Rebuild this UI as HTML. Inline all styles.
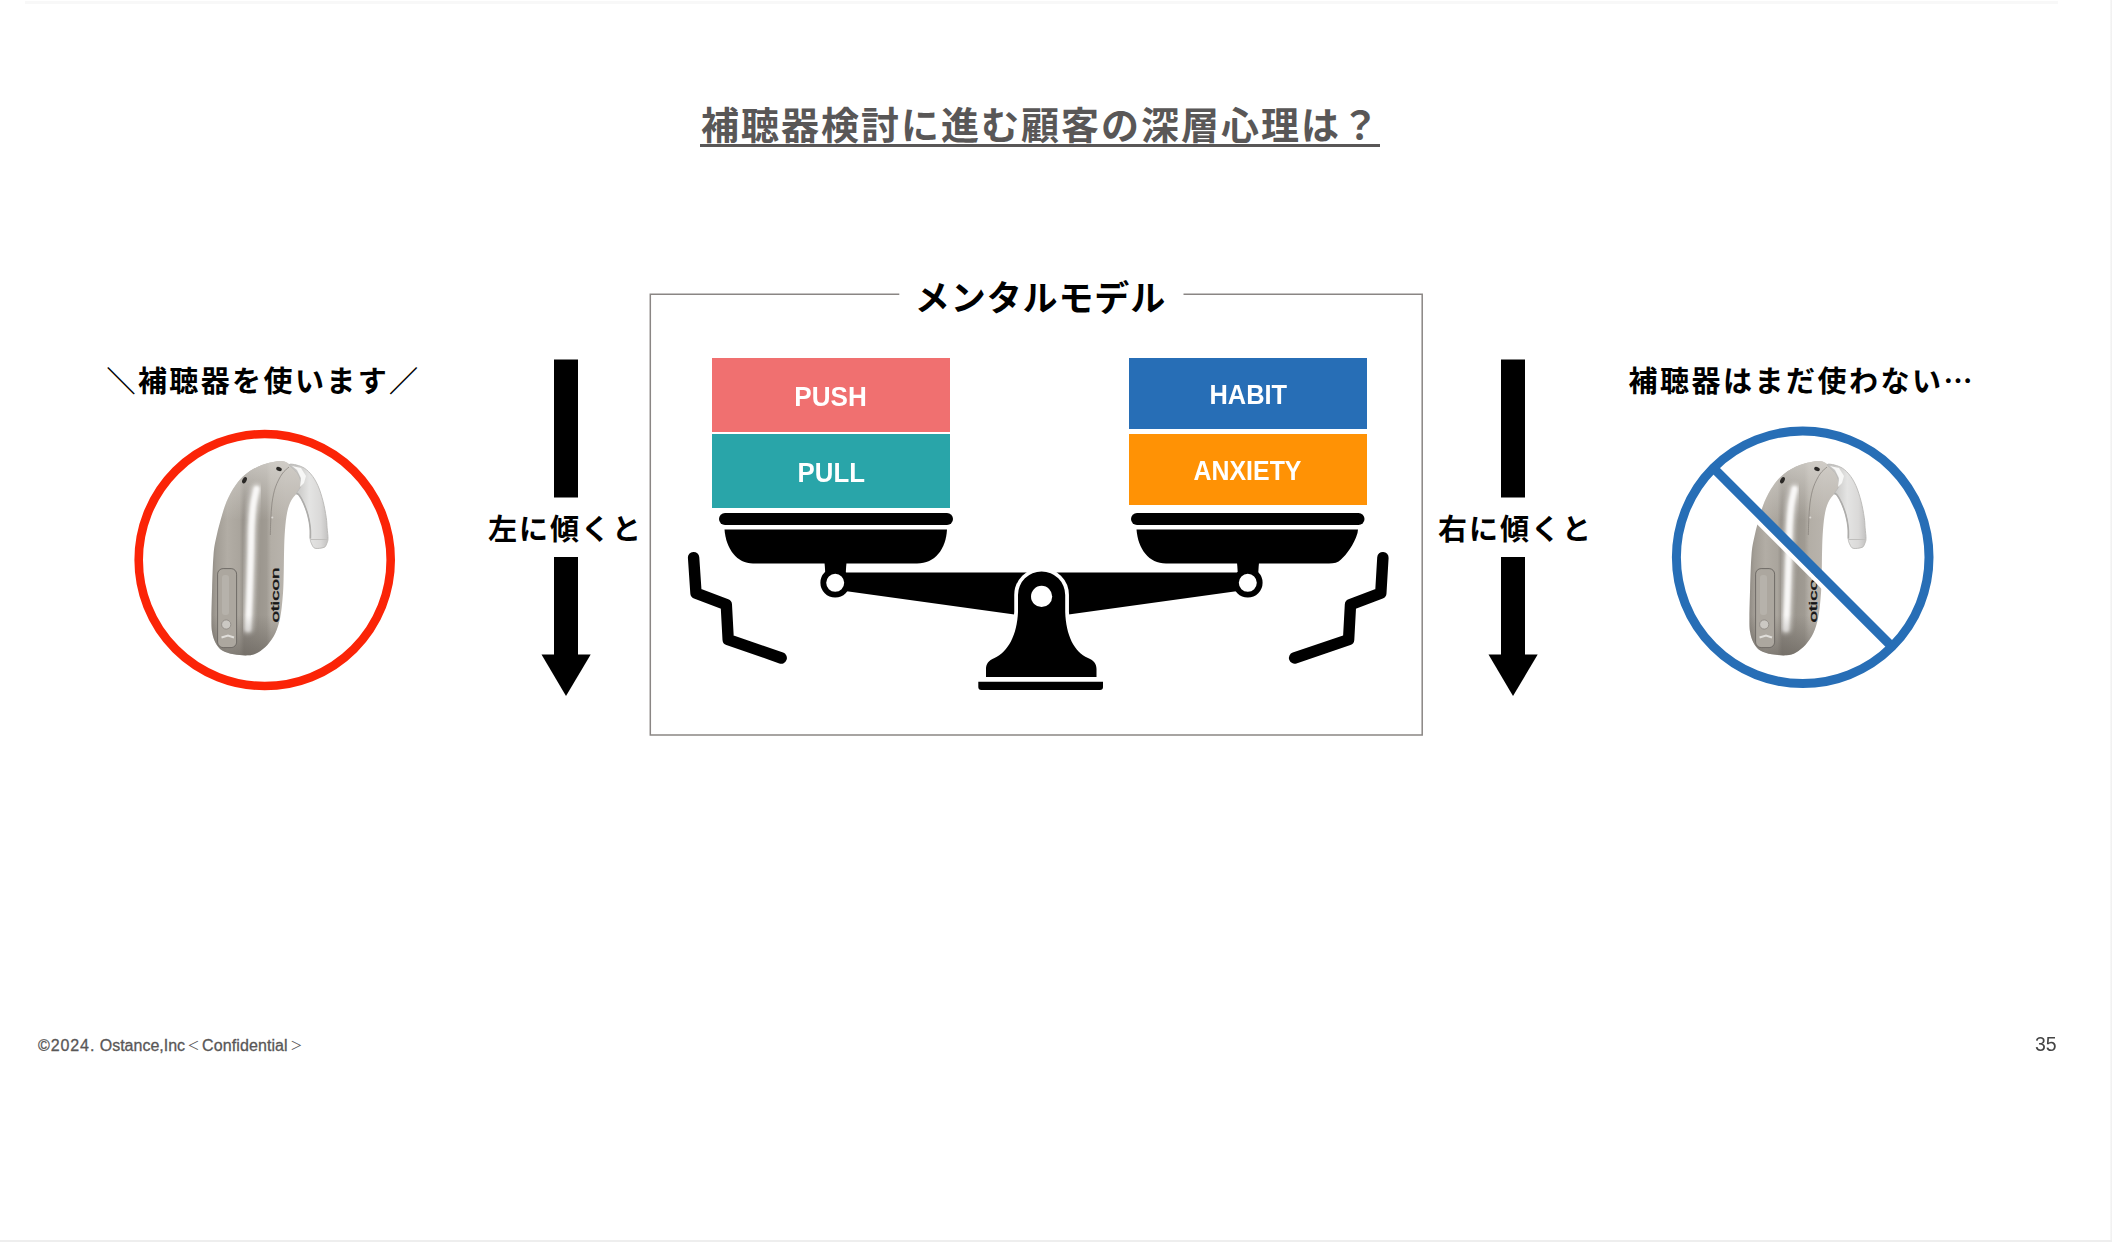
<!DOCTYPE html>
<html lang="ja">
<head>
<meta charset="utf-8">
<title>補聴器検討に進む顧客の深層心理は？</title>
<style>
html,body{margin:0;padding:0;background:#fff;}
body{width:2112px;height:1242px;position:relative;overflow:hidden;
  font-family:"Liberation Sans","Noto Sans CJK JP",sans-serif;}
.abs{position:absolute;white-space:nowrap;line-height:1;}
.jp{font-family:"Liberation Sans","Noto Sans CJK JP",sans-serif;font-weight:700;color:#000;}
#topbar{left:25px;top:1px;width:2033px;height:3px;background:#f8f8f8;}
#rightedge{left:2110px;top:0;width:2px;height:1242px;background:linear-gradient(to right,#f9f9f9,#efefef);}
#bottomedge{left:0;top:1240px;width:2112px;height:2px;background:#eeeeee;}
#title{left:701px;top:107px;font-size:38px;letter-spacing:2px;color:#595757;}
#uline{left:700px;top:144.2px;width:679.5px;height:2.7px;background:#595757;}
#boxlabel{left:899px;top:273.5px;width:285px;height:50px;text-align:center;font-size:35px;line-height:50px;letter-spacing:0.9px;text-indent:-2px;}
.blk{position:absolute;color:#fff;font-weight:700;font-size:27px;text-align:center;}
#push{left:712px;top:358px;width:238px;height:74px;background:#f07070;line-height:78px;}
#pull{left:712px;top:434px;width:238px;height:74px;background:#29a5a9;line-height:78px;}
#habit{left:1129px;top:358px;width:238px;height:71px;background:#276eb6;line-height:75.5px;}
#anx{left:1129px;top:434px;width:238px;height:71px;background:#ff9205;line-height:74px;}
.blk span{display:inline-block;transform-origin:50% 50%;}
.cap{font-size:29px;letter-spacing:2px;}
#capL{left:106.5px;top:368px;letter-spacing:2.4px;}
#capR{left:1628.5px;top:365px;letter-spacing:2.5px;}
#capR span{font-family:"Noto Sans CJK JP",sans-serif;}
#tiltL{left:488px;top:515.5px;}
#tiltR{left:1438px;top:515.5px;}
#foot{left:38px;top:1038px;font-size:16px;color:#595757;-webkit-text-stroke:0.3px #595757;}
#foot .y{letter-spacing:0.9px;}
#foot .fw{display:inline-block;font-size:12px;width:17px;text-align:center;position:relative;top:-1px;-webkit-text-stroke:0;}
#foot .c{letter-spacing:0px;}
#foot #f4{letter-spacing:0.1px;}
#pageno{left:2034.6px;top:1034px;font-size:20.5px;color:#444;transform:scaleX(0.95);transform-origin:0 0;}
svg{position:absolute;left:0;top:0;}
</style>
</head>
<body>
<div class="abs" id="topbar"></div>
<div class="abs" id="rightedge"></div>
<div class="abs" id="bottomedge"></div>

<div class="abs jp" id="title">補聴器検討に進む顧客の深層心理は？</div>
<div class="abs" id="uline"></div>

<div class="abs jp" id="boxlabel">メンタルモデル</div>

<div class="blk" id="push"><span style="transform:scaleX(0.966)">PUSH</span></div>
<div class="blk" id="pull"><span style="transform:scaleX(0.955)">PULL</span></div>
<div class="blk" id="habit"><span style="transform:scaleX(0.94)">HABIT</span></div>
<div class="blk" id="anx"><span style="transform:scaleX(0.922)">ANXIETY</span></div>

<svg id="gfx" width="2112" height="1242" viewBox="0 0 2112 1242">
  <path d="M899.3,294.2 L650.3,294.2 L650.3,735 L1422.2,735 L1422.2,294.2 L1183.5,294.2" fill="none" stroke="#8a8684" stroke-width="1.5"/>
  <!-- arrows -->
  <g fill="#000">
    <rect x="554" y="359.5" width="24" height="138"/>
    <rect x="554" y="557" width="24" height="98"/>
    <polygon points="541.5,654.5 590.7,654.5 566,696"/>
    <rect x="1501" y="359.5" width="24" height="138"/>
    <rect x="1501" y="557" width="24" height="98"/>
    <polygon points="1488.5,654.5 1537.7,654.5 1513,696"/>
  </g>
  <!-- SCALE -->
  <g id="scale" fill="#000">
    <!-- left pan -->
    <rect x="719" y="513" width="234" height="12" rx="6"/>
    <path d="M724.5,529.5 L947,529.5 C946,549 935,563.5 917,563.5 L753,563.5 C737,563.5 726,549 724.5,529.5 Z"/>
    <path d="M824.5,562 L846.5,562 L845.5,576 L825.5,576 Z"/>
    <!-- right pan -->
    <rect x="1131" y="513" width="233.5" height="12" rx="6"/>
    <path d="M1136.5,529.5 L1358,529.5 L1357.5,533 C1354,545 1346,555 1341,559.5 C1338,562.5 1334,563.5 1329,563.5 L1166,563.5 C1149,563.5 1138,549 1136.5,529.5 Z"/>
    <path d="M1237,562 L1259,562 L1258,576 L1238,576 Z"/>
    <!-- beam -->
    <polygon points="838,572.5 1245,572.5 1238,591 1041.5,618.2 845,591"/>
    <!-- rings -->
    <circle cx="835.2" cy="582.8" r="11.9" fill="#fff" stroke="#000" stroke-width="5.8"/>
    <circle cx="1247.8" cy="582.8" r="11.9" fill="#fff" stroke="#000" stroke-width="5.8"/>
    <!-- post -->
    <path d="M1018,595 A23.6,23.6 0 0 1 1065.2,595 L1065.2,612 C1066,635 1074,652 1088,658 C1094,660.5 1096.5,664 1096.5,669 L1096.5,677 L986,677 L986,669 C986,664 988.5,660.5 994.5,658 C1008,652 1017,635 1018,612 Z" stroke="#fff" stroke-width="7.5" paint-order="stroke"/>
    <circle cx="1041.6" cy="596.4" r="10.6" fill="#fff"/>
    <path d="M978.3,681.7 L1103,681.7 L1103,687 Q1103,690 1100,690 L981.3,690 Q978.3,690 978.3,687 Z"/>
    <!-- zigzags -->
    <g fill="none" stroke="#000" stroke-width="11.4" stroke-linecap="round" stroke-linejoin="round">
      <path d="M693.6,557.6 L696,593.2 L726.3,604.6 L728.2,639.6 L781.2,658"/>
      <path d="M1382.9,557.6 L1380.8,593.2 L1350.5,604.6 L1348.6,639.6 L1294.6,658"/>
    </g>
  </g>
  <!-- AIDS -->
  <defs>
    <linearGradient id="gBody" gradientUnits="userSpaceOnUse" x1="211" y1="0" x2="286" y2="0">
      <stop offset="0" stop-color="#8f8a83"/>
      <stop offset="0.07" stop-color="#a29d95"/>
      <stop offset="0.22" stop-color="#b2ada5"/>
      <stop offset="0.38" stop-color="#aaa59d"/>
      <stop offset="0.44" stop-color="#938e87"/>
      <stop offset="0.62" stop-color="#9a958d"/>
      <stop offset="0.74" stop-color="#a09b93"/>
      <stop offset="0.80" stop-color="#b3aea6"/>
      <stop offset="1" stop-color="#b9b4ad"/>
    </linearGradient>
    <linearGradient id="gBot" gradientUnits="userSpaceOnUse" x1="0" y1="615" x2="0" y2="656">
      <stop offset="0" stop-color="#5a554f" stop-opacity="0"/>
      <stop offset="1" stop-color="#5a554f" stop-opacity="0.55"/>
    </linearGradient>
    <linearGradient id="gTop" gradientUnits="userSpaceOnUse" x1="0" y1="460" x2="0" y2="520">
      <stop offset="0" stop-color="#d8d5d0" stop-opacity="0.75"/>
      <stop offset="1" stop-color="#d8d5d0" stop-opacity="0"/>
    </linearGradient>
    <linearGradient id="gHook" gradientUnits="userSpaceOnUse" x1="296" y1="0" x2="329" y2="0">
      <stop offset="0" stop-color="#c6c5c3"/>
      <stop offset="0.4" stop-color="#e4e4e3"/>
      <stop offset="0.75" stop-color="#dad9d8"/>
      <stop offset="1" stop-color="#bfbebd"/>
    </linearGradient>
    <filter id="bl1" x="-50%" y="-10%" width="200%" height="120%"><feGaussianBlur stdDeviation="1.1"/></filter>
    <filter id="bl2" x="-50%" y="-10%" width="200%" height="120%"><feGaussianBlur stdDeviation="2"/></filter>
    <clipPath id="cBody"><path d="M281.5,461.1 C276.8,461.0 267.9,462.9 262.0,465.0 C256.1,467.1 250.4,470.5 246.0,473.9 C241.6,477.3 238.6,480.8 235.4,485.4 C232.2,490.0 229.1,495.5 226.6,501.4 C224.1,507.3 222.2,514.6 220.4,520.8 C218.6,527.0 217.2,532.9 216.0,538.6 C214.8,544.3 214.2,546.7 213.5,555.0 C212.8,563.3 212.4,578.2 212.1,588.6 C211.8,599.0 211.4,610.4 211.4,617.6 C211.4,624.9 211.4,627.9 212.1,632.1 C212.8,636.3 213.8,639.7 215.5,642.8 C217.2,645.9 219.1,648.6 222.2,650.5 C225.2,652.4 229.5,653.5 233.8,654.3 C238.2,655.1 244.3,655.6 248.3,655.3 C252.3,655.0 254.8,654.2 258.0,652.4 C261.2,650.6 264.7,647.9 267.6,644.7 C270.5,641.5 273.3,637.6 275.4,633.1 C277.5,628.6 279.0,623.4 280.2,617.6 C281.4,611.8 282.0,604.7 282.6,598.3 C283.2,591.9 283.4,587.0 283.6,579.0 C283.9,571.0 283.9,558.2 284.1,550.0 C284.3,541.8 284.5,536.0 285.0,529.7 C285.5,523.4 286.2,516.9 287.2,512.0 C288.2,507.1 289.6,503.6 291.2,500.5 C292.8,497.4 294.7,496.0 296.5,493.4 C298.3,490.8 301.6,488.2 302.0,485.0 C302.4,481.8 300.9,477.2 299.0,474.0 C297.1,470.8 293.4,467.6 290.5,465.5 C287.6,463.4 286.2,461.2 281.5,461.1 Z"/></clipPath>
    <g id="aid">
      <path d="M281.5,461.1 C276.8,461.0 267.9,462.9 262.0,465.0 C256.1,467.1 250.4,470.5 246.0,473.9 C241.6,477.3 238.6,480.8 235.4,485.4 C232.2,490.0 229.1,495.5 226.6,501.4 C224.1,507.3 222.2,514.6 220.4,520.8 C218.6,527.0 217.2,532.9 216.0,538.6 C214.8,544.3 214.2,546.7 213.5,555.0 C212.8,563.3 212.4,578.2 212.1,588.6 C211.8,599.0 211.4,610.4 211.4,617.6 C211.4,624.9 211.4,627.9 212.1,632.1 C212.8,636.3 213.8,639.7 215.5,642.8 C217.2,645.9 219.1,648.6 222.2,650.5 C225.2,652.4 229.5,653.5 233.8,654.3 C238.2,655.1 244.3,655.6 248.3,655.3 C252.3,655.0 254.8,654.2 258.0,652.4 C261.2,650.6 264.7,647.9 267.6,644.7 C270.5,641.5 273.3,637.6 275.4,633.1 C277.5,628.6 279.0,623.4 280.2,617.6 C281.4,611.8 282.0,604.7 282.6,598.3 C283.2,591.9 283.4,587.0 283.6,579.0 C283.9,571.0 283.9,558.2 284.1,550.0 C284.3,541.8 284.5,536.0 285.0,529.7 C285.5,523.4 286.2,516.9 287.2,512.0 C288.2,507.1 289.6,503.6 291.2,500.5 C292.8,497.4 294.7,496.0 296.5,493.4 C298.3,490.8 301.6,488.2 302.0,485.0 C302.4,481.8 300.9,477.2 299.0,474.0 C297.1,470.8 293.4,467.6 290.5,465.5 C287.6,463.4 286.2,461.2 281.5,461.1 Z" fill="url(#gBody)"/>
      <g clip-path="url(#cBody)">
        <rect x="205" y="455" width="100" height="70" fill="url(#gTop)"/>
        <path d="M256.5,489.0 C256.0,491.7 254.1,499.0 253.3,505.0 C252.5,511.0 252.0,516.7 251.6,525.0 C251.2,533.3 251.2,542.5 250.8,555.0 C250.4,567.5 249.8,587.7 249.3,600.0 C248.8,612.3 248.2,624.2 248.0,629.0" fill="none" stroke="#dedcd8" stroke-width="10.5" stroke-linecap="round" filter="url(#bl2)" opacity="0.9"/>
        <path d="M256.5,489.0 C256.0,491.7 254.1,499.0 253.3,505.0 C252.5,511.0 252.0,516.7 251.6,525.0 C251.2,533.3 251.2,542.5 250.8,555.0 C250.4,567.5 249.8,587.7 249.3,600.0 C248.8,612.3 248.2,624.2 248.0,629.0" fill="none" stroke="#f8f7f6" stroke-width="5.6" stroke-linecap="round" filter="url(#bl1)"/>
        <rect x="205" y="610" width="90" height="50" fill="url(#gBot)"/>
      </g>
      <path d="M289.0,467.0 C287.8,468.2 284.2,470.7 282.0,474.0 C279.8,477.3 277.2,482.2 275.5,487.0 C273.8,491.8 272.8,497.5 272.0,503.0 C271.2,508.5 271.1,514.7 270.8,520.0 C270.5,525.3 270.4,532.5 270.3,535.0" fill="none" stroke="#827d77" stroke-width="0.7"/>
      <rect x="217.6" y="568.6" width="19" height="79" rx="5.5" fill="#aca79f" stroke="#6f6b66" stroke-width="1"/>
      <rect x="222" y="575" width="7" height="40" rx="3" fill="#b9b5ae" opacity="0.8"/>
      <circle cx="226.2" cy="624.5" r="4.6" fill="#cbc8c3" stroke="#8c8781" stroke-width="0.8"/>
      <path d="M221.5,637.5 L228,635.5 L234,637.5" fill="none" stroke="#e0deda" stroke-width="2"/>
      <ellipse cx="244.5" cy="480.3" rx="2" ry="3.4" transform="rotate(28 244.5 480.3)" fill="#2a2826"/>
      <ellipse cx="279" cy="469" rx="2.9" ry="2" transform="rotate(25 279 469)" fill="#2a2826"/>
      <circle cx="272.3" cy="517.5" r="1" fill="#dcd9d4"/>
      <path d="M289.4,464.5 C290.0,463.3 298.2,465.2 301.8,466.8 C305.4,468.4 308.0,470.8 310.7,473.9 C313.4,477.0 315.7,480.8 317.8,485.4 C319.9,490.0 321.7,496.1 323.1,501.4 C324.5,506.7 325.5,512.9 326.2,517.3 C326.9,521.7 326.8,524.3 327.1,527.9 C327.4,531.5 328.1,535.9 328.0,538.6 C327.9,541.3 327.3,542.4 326.6,543.9 C325.9,545.4 325.9,546.7 324.0,547.4 C322.1,548.1 317.2,548.9 315.1,548.3 C313.0,547.7 312.4,545.5 311.6,543.9 C310.8,542.3 310.4,541.3 310.2,538.6 C310.0,535.9 310.6,531.8 310.2,527.9 C309.8,524.0 309.1,519.6 308.0,515.5 C306.9,511.4 305.1,506.5 303.6,503.1 C302.1,499.7 300.4,496.8 299.2,495.2 C298.0,493.6 296.2,495.1 296.5,493.4 C296.8,491.7 300.8,488.2 301.0,485.0 C301.2,481.8 299.9,477.4 298.0,474.0 C296.1,470.6 288.8,465.7 289.4,464.5 Z" fill="url(#gHook)" stroke="#b9b8b6" stroke-width="0.9"/>
      <path d="M292,466 L297,470 L301,478 L300,487 L304,483 L306,476 L301,468 Z" fill="#f7f7f6"/>
      <path d="M296.5,493.4 C296.9,493.7 298.0,493.6 299.2,495.2 C300.4,496.8 302.1,499.7 303.6,503.1 C305.1,506.5 306.9,511.4 308.0,515.5 C309.1,519.6 309.8,524.0 310.2,527.9 C310.6,531.8 310.4,536.8 310.4,538.6" fill="none" stroke="#adacaa" stroke-width="1.6"/>
      <path d="M311,539.5 L327.5,539.5" stroke="#bfbebc" stroke-width="1" fill="none"/>
    </g>
  </defs>
  <g id="aids">
    <use href="#aid"/>
    <text transform="translate(279.0,622.6) rotate(-90)" font-family="Liberation Sans, sans-serif" font-weight="400" font-size="11.6" fill="#151515" stroke="#151515" stroke-width="0.35" textLength="55" lengthAdjust="spacingAndGlyphs">oticon</text>
    <circle cx="264.7" cy="560" r="126" fill="none" stroke="#fb2407" stroke-width="8.6"/>
    <use href="#aid" transform="translate(1538,0)"/>
    <text transform="translate(1817.0,622.6) rotate(-90)" font-family="Liberation Sans, sans-serif" font-weight="400" font-size="11.6" fill="#151515" stroke="#151515" stroke-width="0.35" textLength="55" lengthAdjust="spacingAndGlyphs">oticon</text>
    <line x1="1708.7" y1="472.7" x2="1887.3" y2="651.3" stroke="#fff" stroke-width="4.6"/>
    <line x1="1713.4" y1="468" x2="1892" y2="646.6" stroke="#276eb6" stroke-width="9.3"/>
    <circle cx="1802.7" cy="557.3" r="126.3" fill="none" stroke="#276eb6" stroke-width="9"/>
  </g>
</svg>

<div class="abs jp cap" id="capL">＼補聴器を使います／</div>
<div class="abs jp cap" id="capR">補聴器はまだ使わない<span>…</span></div>
<div class="abs jp cap" id="tiltL">左に傾くと</div>
<div class="abs jp cap" id="tiltR">右に傾くと</div>

<div class="abs" id="foot"><span class="y" id="f1">©2024.</span> <span class="c" id="f2">Ostance,Inc</span><span class="fw" id="f3">＜</span><span class="c" id="f4">Confidential</span><span class="fw" id="f5">＞</span></div>
<div class="abs" id="pageno">35</div>
</body>
</html>
